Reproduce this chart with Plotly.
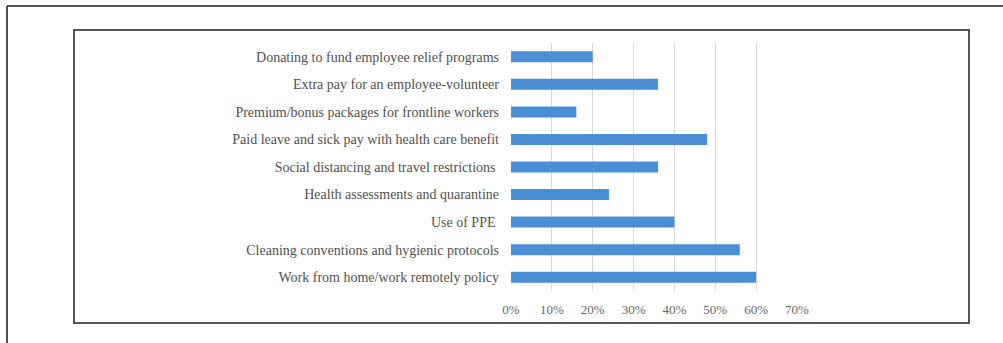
import plotly.graph_objects as go

# Workplace measures, listed top to bottom
measures = [
    "Donating to fund employee relief programs",
    "Extra pay for an employee-volunteer",
    "Premium/bonus packages for frontline workers",
    "Paid leave and sick pay with health care benefit",
    "Social distancing and travel restrictions\u00a0",
    "Health assessments and quarantine",
    "Use of PPE\u00a0",
    "Cleaning conventions and hygienic protocols",
    "Work from home/work remotely policy",
]
share_pct = [20, 36, 16, 48, 36, 24, 40, 56, 60]
x_ticks = [0, 10, 20, 30, 40, 50, 60, 70]
x_tick_labels = [f"{v}%" for v in x_ticks]

W, H = 1003, 343
# plot area in pixels
L, R, T, B = 511, 797, 43, 291

def px_x(p):
    return (p - L) / (R - L)

def px_y(p):
    return (B - p) / (B - T)

SERIF = "'Liberation Serif', 'Times New Roman', 'DejaVu Serif', serif"

fig = go.Figure(
    go.Bar(
        x=share_pct,
        y=measures,
        orientation="h",
        marker=dict(color="#4A8FD6", line=dict(width=0)),
        width=0.4,
    )
)

fig.update_layout(
    width=W,
    height=H,
    margin=dict(l=L, r=W - R, t=T, b=H - B, pad=0),
    paper_bgcolor="white",
    plot_bgcolor="white",
    showlegend=False,
    font=dict(family=SERIF, size=14, color="#555555"),
    xaxis=dict(
        range=[0, 70],
        tickvals=x_ticks,
        ticktext=x_tick_labels,
        tickfont=dict(family=SERIF, size=13, color="#666666"),
        showgrid=True,
        gridcolor="#D9D9D9",
        gridwidth=1,
        zeroline=False,
        showline=False,
        ticks="",
        ticklabelstandoff=9,
        fixedrange=True,
    ),
    yaxis=dict(
        autorange="reversed",
        tickfont=dict(family=SERIF, size=14, color="#505050"),
        showgrid=False,
        zeroline=False,
        showline=False,
        ticks="",
        ticklabelstandoff=11,
        fixedrange=True,
    ),
    shapes=[
        # outer page frame
        dict(type="line", xref="paper", yref="paper",
             x0=px_x(7), x1=px_x(W + 5), y0=px_y(6), y1=px_y(6),
             line=dict(color="#1a1a1a", width=1.5)),
        dict(type="line", xref="paper", yref="paper",
             x0=px_x(7), x1=px_x(7), y0=px_y(6), y1=px_y(H + 5),
             line=dict(color="#1a1a1a", width=1.5)),
        # chart frame
        dict(type="rect", xref="paper", yref="paper",
             x0=px_x(74), x1=px_x(969), y0=px_y(323), y1=px_y(30),
             line=dict(color="#555555", width=2), layer="below"),
    ],
)

fig.write_html("out.html")
